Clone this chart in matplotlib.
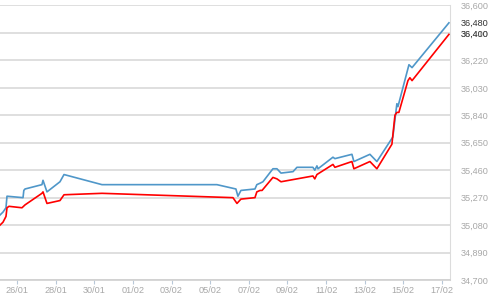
import matplotlib
matplotlib.use('Agg')
import matplotlib.pyplot as plt
import matplotlib.dates as mdates
import pandas as pd

# Data (date/time, price)
blue_time = ['2017-01-25 02:54', '2017-01-25 06:36', '2017-01-25 10:20', '2017-01-25 11:35',
             '2017-01-26 07:30', '2017-01-26 08:30', '2017-01-26 10:00', '2017-01-27 07:00',
             '2017-01-27 08:20', '2017-01-27 13:15', '2017-01-28 05:25', '2017-01-28 10:25',
             '2017-01-30 09:36', '2017-02-05 08:24', '2017-02-06 08:00', '2017-02-06 10:30',
             '2017-02-06 14:15', '2017-02-07 07:40', '2017-02-07 10:00', '2017-02-07 14:00',
             '2017-02-07 17:35', '2017-02-08 06:00', '2017-02-08 11:00', '2017-02-08 16:00',
             '2017-02-09 07:00', '2017-02-09 11:50', '2017-02-10 07:40', '2017-02-10 10:00',
             '2017-02-10 12:40', '2017-02-10 14:00', '2017-02-11 08:35', '2017-02-11 11:00',
             '2017-02-12 08:10', '2017-02-12 10:35', '2017-02-13 06:30', '2017-02-13 15:10',
             '2017-02-14 11:00', '2017-02-14 16:00', '2017-02-14 17:20', '2017-02-15 07:00',
             '2017-02-15 10:50', '2017-02-17 08:40']
blue_val = [35150, 35170, 35200, 35280,
            35270, 35320, 35330, 35360,
            35390, 35310, 35380, 35430,
            35360, 35360, 35330, 35280,
            35320, 35330, 35360, 35370,
            35380, 35470, 35470, 35440,
            35450, 35480, 35480, 35460,
            35490, 35470, 35550, 35540,
            35570, 35520, 35570, 35520,
            35690, 35920, 35900, 36190,
            36170, 36480]

red_time = ['2017-01-25 02:54', '2017-01-25 06:36', '2017-01-25 10:20', '2017-01-25 11:35',
            '2017-01-25 14:05', '2017-01-26 06:13', '2017-01-26 10:00', '2017-01-27 07:00',
            '2017-01-27 08:20', '2017-01-27 13:15', '2017-01-28 05:25', '2017-01-28 10:25',
            '2017-01-30 09:36', '2017-02-06 04:20', '2017-02-06 09:20', '2017-02-06 14:15',
            '2017-02-07 07:40', '2017-02-07 10:00', '2017-02-07 14:00', '2017-02-07 16:30',
            '2017-02-08 06:00', '2017-02-08 11:00', '2017-02-08 16:00', '2017-02-10 07:40',
            '2017-02-10 10:00', '2017-02-10 12:40', '2017-02-11 08:35', '2017-02-11 11:00',
            '2017-02-12 08:10', '2017-02-12 10:35', '2017-02-13 06:30', '2017-02-13 15:10',
            '2017-02-14 09:50', '2017-02-14 13:35', '2017-02-14 16:00', '2017-02-14 18:30',
            '2017-02-15 05:45', '2017-02-15 08:10', '2017-02-15 10:50', '2017-02-17 08:40']
red_val = [35080, 35100, 35140, 35200,
           35210, 35200, 35220, 35300,
           35310, 35230, 35250, 35290,
           35300, 35270, 35230, 35260,
           35270, 35310, 35320, 35320,
           35410, 35400, 35380, 35420,
           35400, 35430, 35500, 35480,
           35520, 35470, 35520, 35470,
           35640, 35840, 35860, 35860,
           36080, 36100, 36080, 36400]

y_ticks = [34700, 34890, 35080, 35270, 35460, 35650, 35840, 36030, 36220, 36410, 36600]
x_ticks = ['2017-01-26', '2017-01-28', '2017-01-30', '2017-02-01', '2017-02-03', '2017-02-05',
           '2017-02-07', '2017-02-09', '2017-02-11', '2017-02-13', '2017-02-15', '2017-02-17']

blue_t = pd.to_datetime(blue_time)
red_t = pd.to_datetime(red_time)

plt.rcParams['font.family'] = ['Liberation Sans', 'DejaVu Sans']

fig = plt.figure(figsize=(5, 2.95), dpi=100)
fig.patch.set_facecolor('white')
ax = fig.add_axes([0.0, 0.0508, 0.9, 0.9306])

ax.plot(blue_t, blue_val, color='#4f97c9', lw=1.2, zorder=3)
ax.plot(red_t, red_val, color='#ff0000', lw=1.2, zorder=3)

ax.set_ylim(34700, 36600)
ax.set_xlim(pd.Timestamp('2017-01-25 02:54'), pd.Timestamp('2017-02-17 10:00'))

ax.yaxis.tick_right()
ax.set_yticks(y_ticks)
ax.set_yticklabels(['{:,}'.format(v) for v in y_ticks])
ax.tick_params(axis='y', length=0, pad=8, labelsize=6.6, labelcolor='#a8a8a8')
ax.grid(axis='y', color='#d9d9d9', lw=1.2)
ax.set_axisbelow(True)

ax.set_xticks(pd.to_datetime(x_ticks))
ax.xaxis.set_major_formatter(mdates.DateFormatter('%d/%m'))
ax.tick_params(axis='x', length=3, width=0.8, color='#b8c8d8', pad=1.5,
               labelsize=6.6, labelcolor='#a8a8a8')

for s in ['left', 'top']:
    ax.spines[s].set_visible(False)
ax.spines['right'].set_color('#dcdcdc')
ax.spines['bottom'].set_color('#d0d0d0')
ax.spines['bottom'].set_linewidth(1.2)

# last-value labels
ax.text(1.024, blue_val[-1], '{:,}'.format(blue_val[-1]), transform=ax.get_yaxis_transform(),
        va='center', ha='left', fontsize=6.6, color='#333333')
ax.text(1.024, red_val[-1], '{:,}'.format(red_val[-1]), transform=ax.get_yaxis_transform(),
        va='center', ha='left', fontsize=6.6, color='#333333')

plt.savefig('out.png', dpi=100)
